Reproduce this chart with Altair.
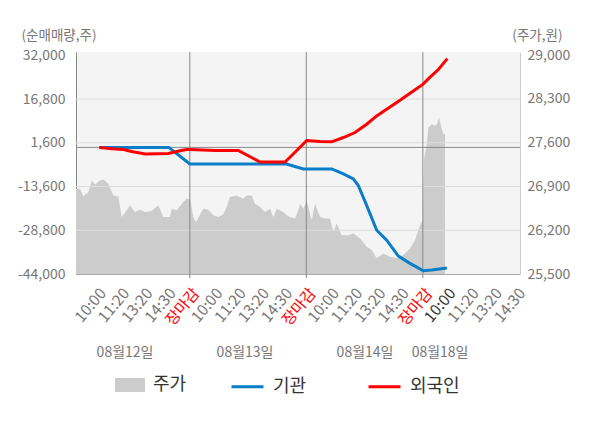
import json
import altair as alt
import pandas as pd

# ---------------- data ----------------
tick_labels = ["10:00", "11:20", "13:20", "14:30", "장마감"]
tick_pos = list(range(1, 20))
day_sep = [5, 10, 15]
date_labels = ["08월12일", "08월13일", "08월14일", "08월18일"]
date_pos = [2.22, 7.37, 12.52, 15.74]

left_ticks = [-44000, -28800, -13600, 1600, 16800, 32000]
grid_vals = [-28800, -13600, 1600, 16800]
right_ticks = [25500, 26200, 26900, 27600, 28300, 29000]

price_t = [0.116, 0.288, 0.429, 0.644, 0.790, 0.931, 1.146, 1.288, 1.502, 1.717,
           1.931, 2.077, 2.292, 2.433, 2.648, 2.863, 3.077, 3.365, 3.648, 3.863,
           4.150, 4.223, 4.438, 4.721, 4.867, 5.009, 5.150, 5.266, 5.579, 5.794,
           6.009, 6.223, 6.438, 6.584, 6.725, 7.013, 7.296, 7.442, 7.657, 7.798,
           8.013, 8.227, 8.442, 8.584, 8.730, 9.013, 9.159, 9.300, 9.515, 9.657,
           9.730, 9.871, 10.017, 10.232, 10.373, 10.588, 10.803, 11.017, 11.159, 11.305,
           11.519, 11.803, 12.017, 12.305, 12.592, 12.807, 13.021, 13.305, 13.592, 13.880,
           14.163, 14.451, 14.665, 14.880, 14.996, 15.052, 15.167, 15.236, 15.382, 15.524,
           15.609, 15.695, 15.811, 15.880, 15.953]
price_v = [26863, 26863, 26741, 26809, 26995, 26932, 26995, 27011, 26943, 26757,
           26741, 26412, 26518, 26598, 26491, 26529, 26491, 26507, 26598, 26412,
           26412, 26545, 26518, 26650, 26704, 26704, 26412, 26332, 26545, 26529,
           26439, 26412, 26455, 26571, 26730, 26757, 26704, 26757, 26757, 26625,
           26571, 26491, 26545, 26412, 26545, 26491, 26439, 26412, 26386, 26518,
           26625, 26545, 26677, 26359, 26625, 26412, 26386, 26386, 26173, 26307,
           26120, 26120, 26147, 26068, 25934, 25882, 25750, 25829, 25775, 25750,
           25802, 25909, 26041, 26280, 26359, 27341, 27579, 27843, 27897, 27870,
           27897, 28002, 27818, 27738, 27738]

inst_t = [1.12, 4.10, 5.00, 9.15, 9.87, 11.09, 11.59, 12.02, 12.23, 12.59,
          13.02, 13.45, 13.95, 14.45, 15.02, 15.38, 16.03]
inst_v = [0, 0, -5760, -5760, -7490, -7490, -9210, -10940, -13250, -20160,
          -28800, -32250, -37780, -40300, -42860, -42620, -41930]

frgn_t = [1.12, 1.65, 2.15, 2.50, 2.86, 3.08, 4.08, 4.58, 4.87, 5.00,
          6.08, 7.08, 8.01, 9.09, 10.02, 10.59, 11.09, 11.59, 12.09, 12.59,
          13.02, 13.59, 14.02, 14.59, 15.00, 15.31, 15.67, 16.05]
frgn_v = [0, -470, -715, -1400, -1960, -2300, -2100, -1160, -715, -715,
          -1060, -1060, -5070, -5070, 2390, 2050, 1945, 3430, 5160, 8060,
          10930, 14040, 16350, 19560, 21880, 24400, 27060, 30860]

series_names = ["주가", "기관", "외국인"]
colors = ["#cccccc", "#0a7dc8", "#ff0000"]

# ---------------- tables ----------------
price_df = pd.DataFrame({"t": price_t, "p": price_v, "series": series_names[0]})
lines_df = pd.concat([
    pd.DataFrame({"t": inst_t, "v": inst_v, "series": series_names[1]}),
    pd.DataFrame({"t": frgn_t, "v": frgn_v, "series": series_names[2]}),
])
grid_df = pd.DataFrame({"v": grid_vals})
zero_df = pd.DataFrame({"v": [0]})
sep_df = pd.DataFrame({"t": day_sep})
date_df = pd.DataFrame({"t": date_pos, "label": date_labels})

FONT = "Noto Sans CJK KR"
GREY = "#777777"

x_scale = alt.Scale(domain=[0.116, 19.17], nice=False, zero=False)
yl_scale = alt.Scale(domain=[-44000, 33150], nice=False, zero=False)
yr_scale = alt.Scale(domain=[25500, 29051], nice=False, zero=False)

x_axis = alt.Axis(
    values=tick_pos,
    labelExpr="%s[(datum.value - 1) %% 5]" % json.dumps(tick_labels, ensure_ascii=False),
    labelAngle=310, labelAlign="right", labelBaseline="middle",
    labelFontSize=15.5, labelPadding=16, labelOffset=6,
    labelFlush=False, labelOverlap=False,
    labelColor={"condition": [{"test": "datum.value % 5 === 0", "value": "#ff0000"},
                              {"test": "datum.value === 16", "value": "#333333"}],
                "value": GREY},
    ticks=False, grid=False, domainColor="#aaaaaa", title=None,
)

left_axis = alt.Axis(
    orient="left", values=left_ticks,
    labelExpr="(datum.value < 0 ? '-' : '') + format(abs(datum.value), ',')",
    grid=False, ticks=False, domainColor="#888888",
    labelColor=GREY, labelFontSize=14, labelPadding=11, labelFlush=False,
    title="(순매매량,주)", titleAngle=0, titleX=-55, titleY=-17,
    titleAlign="left", titleBaseline="middle", titleFontSize=13.5,
    titleFontWeight="normal", titleColor=GREY,
)

right_axis = alt.Axis(
    orient="right", values=right_ticks,
    labelExpr="format(datum.value, ',')",
    grid=False, ticks=False, domainColor="#cccccc",
    labelColor=GREY, labelFontSize=14, labelPadding=7, labelFlush=False,
    title="(주가,원)", titleAngle=0, titleX=42, titleY=-17,
    titleAlign="right", titleBaseline="middle", titleFontSize=13.5,
    titleFontWeight="normal", titleColor=GREY,
)

X = alt.X("t:Q", scale=x_scale, axis=x_axis)
YL = alt.Y("v:Q", scale=yl_scale, axis=left_axis)

area = alt.Chart(price_df).mark_area(opacity=1, clip=True).encode(
    x=X,
    y=alt.Y("p:Q", scale=yr_scale, axis=right_axis),
    y2=alt.datum(right_ticks[0]),
    fill=alt.Fill("series:N",
                  scale=alt.Scale(domain=series_names[:1], range=colors[:1]),
                  legend=alt.Legend(orient="none", legendX=39, legendY=318,
                                    direction="horizontal", title=None,
                                    symbolType="M-1,-0.47L1,-0.47L1,0.47L-1,0.47Z",
                                    symbolSize=900, symbolStrokeWidth=0,
                                    symbolOpacity=1, labelOffset=8,
                                    labelFontSize=18, labelColor="#333333",
                                    labelFont=FONT, padding=0)),
)

grid = alt.Chart(grid_df).mark_rule(color="#dddddd", strokeWidth=1).encode(y=YL)
zero = alt.Chart(zero_df).mark_rule(color="#888888", strokeWidth=1).encode(y=YL)
seps = alt.Chart(sep_df).mark_rule(color="#888888", strokeWidth=1).encode(
    x=X, y=alt.value(0), y2=alt.value(226))

lines = alt.Chart(lines_df).mark_line(strokeWidth=3, interpolate="linear").encode(
    x=X, y=YL,
    stroke=alt.Stroke("series:N",
                      scale=alt.Scale(domain=series_names[1:], range=colors[1:]),
                      legend=alt.Legend(orient="none", legendX=154, legendY=317,
                                        direction="horizontal", title=None,
                                        symbolType="stroke", symbolSize=1024,
                                        symbolStrokeWidth=3, labelOffset=8,
                                        columnPadding=55,
                                        labelFontSize=18, labelColor="#333333",
                                        labelFont=FONT, padding=0)),
    detail="series:N",
)

dates = alt.Chart(date_df).mark_text(fontSize=14, color=GREY, font=FONT,
                                     baseline="middle", align="center").encode(
    x=X, y=alt.value(301), text="label:N")

left_group = alt.layer(grid, zero, seps, lines, dates)

chart = alt.layer(area, left_group).resolve_scale(
    y="independent", fill="independent", stroke="independent"
).properties(
    width=444, height=222,
    autosize=alt.AutoSizeParams(type="none"),
    padding={"left": 68, "top": 44, "right": 72, "bottom": 146},
).configure(font=FONT).configure_view(fill="#f4f4f4", strokeWidth=0)

chart.save("out.html", embed_options={"renderer": "svg", "actions": False})
